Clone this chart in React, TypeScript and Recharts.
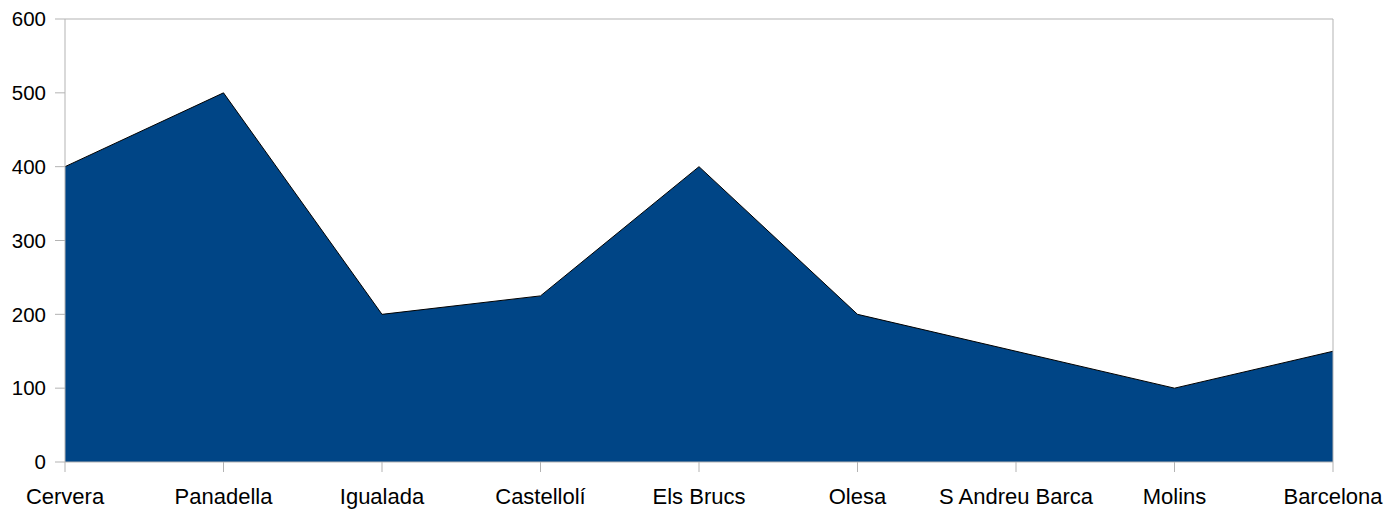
import { AreaChart, Area, XAxis, YAxis, ReferenceLine } from "recharts";

const towns = ["Cervera", "Panadella", "Igualada", "Castellolí", "Els Brucs", "Olesa", "S Andreu Barca", "Molins", "Barcelona"];
const heights = [400, 500, 200, 225, 400, 200, 150, 100, 150];
const yTicks = [0, 100, 200, 300, 400, 500, 600];

const data = towns.map((name, i) => ({ name, value: heights[i] }));

const grey = "#b3b3b3";
const font = "Liberation Sans, Arial, sans-serif";

export default function App() {
  return (
    <div style={{ position: "absolute", left: 0, top: 0 }}>
      <AreaChart width={1398} height={509} data={data} margin={{ top: 19, right: 65, bottom: 0, left: 0 }}>
        <XAxis
          dataKey="name"
          height={47}
          tick={{ fill: "#000", fontSize: 22, fontFamily: font }}
          tickSize={10}
          tickMargin={16}
          axisLine={{ stroke: grey }}
          tickLine={{ stroke: grey }}
          interval={0}
        />
        <YAxis
          width={65}
          domain={[0, 600]}
          ticks={yTicks}
          tick={{ fill: "#000", fontSize: 20.5, fontFamily: font }}
          tickSize={10}
          tickMargin={9}
          axisLine={{ stroke: grey }}
          tickLine={{ stroke: grey }}
        />
        <ReferenceLine y={600} stroke={grey} />
        <ReferenceLine x="Barcelona" stroke={grey} />
        <Area
          type="linear"
          dataKey="value"
          stroke="#000"
          strokeWidth={1}
          fill="#004586"
          fillOpacity={1}
          isAnimationActive={false}
        />
      </AreaChart>
    </div>
  );
}
